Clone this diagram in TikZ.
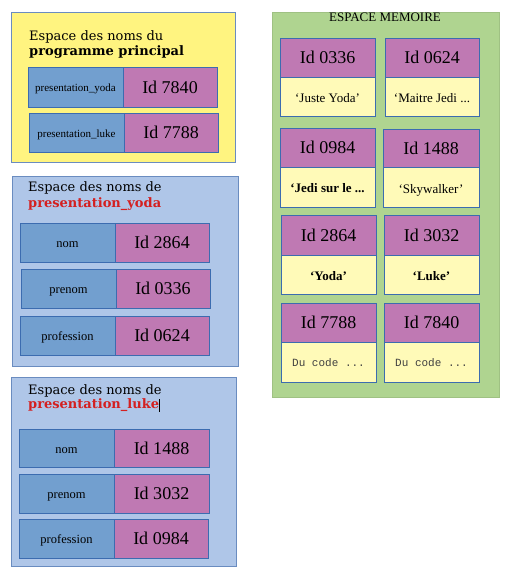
\documentclass[tikz,border=0pt]{standalone}
\usepackage{fontspec}
\setmainfont{Liberation Serif}
\newfontfamily\dvs{DejaVu Serif}
\newfontfamily\lmono{Liberation Mono}
\definecolor{yelbg}{HTML}{FFF480}
\definecolor{blubg}{HTML}{AFC6E8}
\definecolor{grnbg}{HTML}{AFD490}
\definecolor{cellblue}{HTML}{729FCF}
\definecolor{cellpink}{HTML}{BF79B3}
\definecolor{cellyel}{HTML}{FFFAB8}
\definecolor{edge}{HTML}{3C6CB0}
\definecolor{outedge}{HTML}{6A8CC0}
\definecolor{redtxt}{HTML}{D42020}
\tikzset{
  x=1pt, y=-1pt,
  outerbox/.style={draw=outedge, line width=0.8pt},
  namecell/.style={draw=edge, fill=cellblue, line width=0.8pt},
  idcell/.style={draw=edge, fill=cellpink, line width=0.8pt},
  valcell/.style={draw=edge, fill=cellyel, line width=0.8pt},
  idtxt/.style={font=\fontsize{18}{20}\selectfont, inner sep=0pt, text height=16pt, text depth=3.9pt},
  smalltxt/.style={font=\fontsize{11}{13}\selectfont, inner sep=0pt, text height=9.8pt, text depth=2.4pt, yshift=-1pt},
  vartxt/.style={font=\fontsize{12.5}{14}\selectfont, inner sep=0pt, text height=11.1pt, text depth=2.7pt, yshift=-1pt},
  valtxt/.style={font=\fontsize{13}{15}\selectfont, inner sep=0pt, text height=11.6pt, text depth=2.8pt, yshift=-1.2pt},
  codetxt/.style={font=\lmono\fontsize{11}{13}\selectfont, text=black!75, inner sep=0pt, text height=9.1pt, text depth=3.3pt, yshift=-1.5pt},
  titletxt/.style={font=\dvs\fontsize{13}{15}\selectfont, inner sep=0pt, anchor=west, yshift=-1.2pt},
}
\begin{document}
\begin{tikzpicture}
\useasboundingbox (0,0) rectangle (511,577);
% main program namespace
\filldraw[outerbox, fill=yelbg] (11,12) rectangle (235,162);
\node[titletxt] (t1a) at (29,36) {Espace des noms du};
\node[titletxt, font=\dvs\bfseries\fontsize{13}{15}\selectfont] (t1b) at (29,51) {programme principal};
\draw[namecell] (28,67) rectangle (123,107); \draw[idcell] (123,67) rectangle (217,107);
\node[smalltxt] (p1n) at (75.5,87) {presentation\_yoda};
\node[idtxt] (p1i) at (170,87) {Id 7840};
\draw[namecell] (29,113) rectangle (124,152); \draw[idcell] (124,113) rectangle (218,152);
\node[smalltxt] (p2n) at (76.5,132.5) {presentation\_luke};
\node[idtxt] (p2i) at (171,132.5) {Id 7788};
% presentation_yoda namespace
\filldraw[outerbox, fill=blubg] (12,176) rectangle (238,366);
\node[titletxt] (t2a) at (28,187) {Espace des noms de};
\node[titletxt, font=\dvs\bfseries\fontsize{13}{15}\selectfont, text=redtxt] (t2b) at (28,203) {presentation\_yoda};
\draw[namecell] (20,223) rectangle (115,262); \draw[idcell] (115,223) rectangle (209,262);
\node[vartxt] (y1n) at (67.5,242.5) {nom};
\node[idtxt] (y1i) at (162,242.5) {Id 2864};
\draw[namecell] (21,269) rectangle (116,308); \draw[idcell] (116,269) rectangle (210,308);
\node[vartxt] (y2n) at (68.5,288.5) {prenom};
\node[idtxt] (y2i) at (163,288.5) {Id 0336};
\draw[namecell] (20,316) rectangle (115,355); \draw[idcell] (115,316) rectangle (209,355);
\node[vartxt] (y3n) at (67.5,335.5) {profession};
\node[idtxt] (y3i) at (162,335.5) {Id 0624};
% presentation_luke namespace
\filldraw[outerbox, fill=blubg] (11,377) rectangle (236,566);
\node[titletxt] (t3a) at (28,390) {Espace des noms de};
\node[titletxt, font=\dvs\bfseries\fontsize{13}{15}\selectfont, text=redtxt] (t3b) at (28,404) {presentation\_luke};
\coordinate (caretT) at (159,399); \coordinate (caretB) at (159,412);
\draw[line width=0.6pt] (caretT) -- (caretB);
\draw[namecell] (19,429) rectangle (114,467); \draw[idcell] (114,429) rectangle (209,467);
\node[vartxt] (l1n) at (66.5,448) {nom};
\node[idtxt] (l1i) at (161.5,448) {Id 1488};
\draw[namecell] (19,474) rectangle (114,513); \draw[idcell] (114,474) rectangle (209,513);
\node[vartxt] (l2n) at (66.5,493.5) {prenom};
\node[idtxt] (l2i) at (161.5,493.5) {Id 3032};
\draw[namecell] (19,519) rectangle (114,558); \draw[idcell] (114,519) rectangle (208,558);
\node[vartxt] (l3n) at (66.5,538.5) {profession};
\node[idtxt] (l3i) at (161,538.5) {Id 0984};
% memory space
\filldraw[draw=grnbg!85!black!60!grnbg, fill=grnbg] (272,12) rectangle (499,397);
\node[font=\fontsize{13}{15}\selectfont, inner sep=0pt] (mt) at (385,17.5) {ESPACE MEMOIRE};
% row 1
\draw[idcell] (280,38) rectangle (375,77); \draw[valcell] (280,77) rectangle (375,116);
\node[idtxt] (m1i) at (327.5,57.5) {Id 0336};
\node[valtxt] (m1v) at (327.5,97) {‘Juste Yoda’};
\draw[idcell] (385,38) rectangle (479,77); \draw[valcell] (385,77) rectangle (479,116);
\node[idtxt] (m2i) at (432,57.5) {Id 0624};
\node[valtxt] (m2v) at (432,97) {‘Maitre Jedi ...};
% row 2
\draw[idcell] (280,128) rectangle (375,167); \draw[valcell] (280,167) rectangle (375,207);
\node[idtxt] (m3i) at (327.5,147.5) {Id 0984};
\node[valtxt, font=\bfseries\fontsize{13}{15}\selectfont] (m3v) at (327.5,187) {‘Jedi sur le ...};
\draw[idcell] (383,129) rectangle (479,167); \draw[valcell] (383,167) rectangle (479,207);
\node[idtxt] (m4i) at (431,148) {Id 1488};
\node[valtxt] (m4v) at (431,187.5) {‘Skywalker’};
% row 3
\draw[idcell] (281,215) rectangle (376,255); \draw[valcell] (281,255) rectangle (376,294);
\node[idtxt] (m5i) at (328.5,235) {Id 2864};
\node[valtxt, font=\bfseries\fontsize{13}{15}\selectfont] (m5v) at (328.5,275) {‘Yoda’};
\draw[idcell] (384,215) rectangle (479,255); \draw[valcell] (384,255) rectangle (479,294);
\node[idtxt] (m6i) at (431.5,235) {Id 3032};
\node[valtxt, font=\bfseries\fontsize{13}{15}\selectfont] (m6v) at (431.5,275) {‘Luke’};
% row 4
\draw[idcell] (281,303) rectangle (376,342); \draw[valcell] (281,342) rectangle (376,382);
\node[idtxt] (m7i) at (328.5,322.5) {Id 7788};
\node[codetxt] (m7v) at (328.5,362) {Du code ...};
\draw[idcell] (384,303) rectangle (479,342); \draw[valcell] (384,342) rectangle (479,382);
\node[idtxt] (m8i) at (431.5,322.5) {Id 7840};
\node[codetxt] (m8v) at (431.5,362) {Du code ...};
\end{tikzpicture}
\end{document}
